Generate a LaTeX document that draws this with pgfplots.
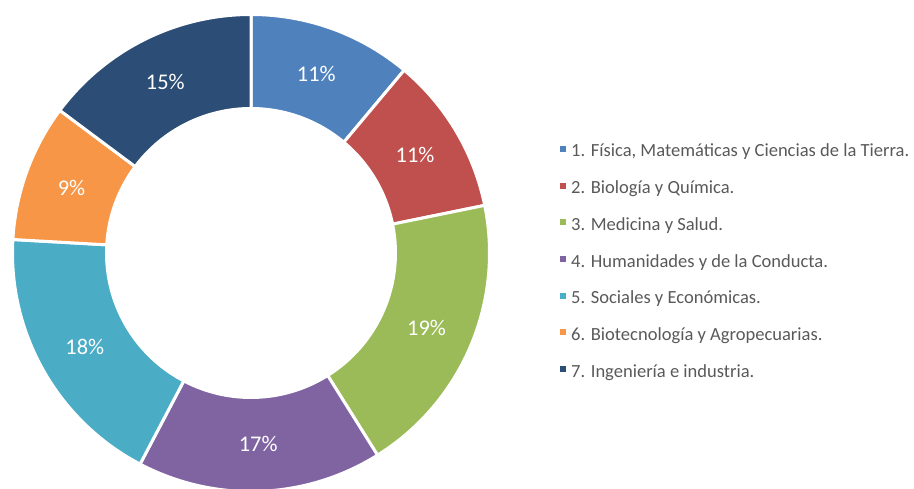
\documentclass[border=0pt]{standalone}
\usepackage{pgfplots}
\pgfplotsset{compat=1.18}
\usepackage{pgfplotstable}
\usepackage{fontspec}
\setmainfont{Carlito}

\definecolor{c1}{HTML}{4F81BD}
\definecolor{c2}{HTML}{C0504D}
\definecolor{c3}{HTML}{9BBB59}
\definecolor{c4}{HTML}{8064A2}
\definecolor{c5}{HTML}{4BACC6}
\definecolor{c6}{HTML}{F79646}
\definecolor{c7}{HTML}{2C4D75}
\definecolor{legtext}{HTML}{595959}

\pgfplotstableread{
id share
1 11.1
2 10.7
3 19.3
4 16.6
5 18.2
6 9.3
7 14.8
}\datatable

\begin{document}
\begin{tikzpicture}
\begin{axis}[
  name=donut,
  x=1bp, y=1bp,
  xmin=-251, xmax=663, ymin=-236, ymax=253,
  scale only axis, hide axis, clip=false,
]
\addplot[draw=none, forget plot] coordinates {(0,0)};
\pgfplotsextra{
  \gdef\cum{0}
  \foreach \i [count=\n] in {0,...,6}{
    \pgfplotstablegetelem{\i}{share}\of\datatable
    \let\val\pgfplotsretval
    \pgfmathsetmacro\va{90-3.6*\cum}
    \pgfmathsetmacro\vb{90-3.6*(\cum+\val)}
    \pgfmathsetmacro\vm{(\va+\vb)/2}
    \pgfmathtruncatemacro\lab{round(\val)}
    \begin{scope}[shift={(axis cs:0,0)}]
      \fill[c\n, draw=white, line width=3bp, line join=miter]
        (\va:238.5bp) arc[start angle=\va, end angle=\vb, radius=238.5bp]
        -- (\vb:144.5bp) arc[start angle=\vb, end angle=\va, radius=144.5bp]
        -- cycle;
      \node[text=white, font=\fontsize{22.5}{26}\selectfont, inner sep=0pt]
        at (\vm:191bp) {\lab\%};
    \end{scope}
    \pgfmathsetmacro\newcum{\cum+\val}
    \xdef\cum{\newcum}
  }
}
% legend
\pgfplotsinvokeforeach{1,...,7}{
  \fill[c#1] (axis cs:309,{104-36.67*(#1-1)-3}) rectangle (axis cs:315,{104-36.67*(#1-1)+3});
}
\begin{scope}[every node/.style={anchor=base west, inner sep=0pt, text=legtext, font=\fontsize{18.6}{22}\selectfont}]
\node at (axis cs:320,{104-36.67*0-8}) {1. Física, Matemáticas y Ciencias de la Tierra.};
\node at (axis cs:320,{104-36.67*1-8}) {2. Biología y Química.};
\node at (axis cs:320,{104-36.67*2-8}) {3. Medicina y Salud.};
\node at (axis cs:320,{104-36.67*3-8}) {4. Humanidades y de la Conducta.};
\node at (axis cs:320,{104-36.67*4-8}) {5. Sociales y Económicas.};
\node at (axis cs:320,{104-36.67*5-8}) {6. Biotecnología y Agropecuarias.};
\node at (axis cs:320,{104-36.67*6-8}) {7. Ingeniería e industria.};
\end{scope}
\end{axis}
\pgfresetboundingbox
\useasboundingbox (donut.south west) rectangle (donut.north east);
\end{tikzpicture}
\end{document}
